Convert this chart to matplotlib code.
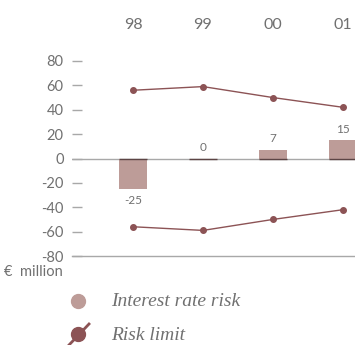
import matplotlib
matplotlib.use("Agg")
import matplotlib.pyplot as plt
from matplotlib.lines import Line2D

categories = ["98", "99", "00", "01"]
interest_rate_risk = [-25, 0, 7, 15]
risk_limit_upper = [56, 59, 50, 42]
risk_limit_lower = [-56, -59, -50, -42]
yticks = [-80, -60, -40, -20, 0, 20, 40, 60, 80]

bar_color = "#bd9c98"
line_color = "#8c5355"
text_color = "#707070"
grid_color = "#a8a8a8"

plt.rcParams['font.family'] = ['Lato', 'DejaVu Sans']

fig = plt.figure(figsize=(3.55, 3.45), dpi=100)
W, H = 355, 345
ax = fig.add_axes([72 / W, (H - 256) / H, (355 - 72) / W, (256 - 61) / H])
x = list(range(len(categories)))
bw = 0.4
ax.bar(x, interest_rate_risk, width=bw, color=bar_color, zorder=2)
for xi in x:
    ax.plot([xi - bw / 2, xi + bw / 2], [0, 0], color="#5c4444", lw=1.0, zorder=3, solid_capstyle='butt')
ax.axhline(0, color=grid_color, lw=1.0, zorder=1)
ax.axhline(-80, color=grid_color, lw=1.0, zorder=1, clip_on=False)
ax.plot(x, risk_limit_upper, color=line_color, lw=1.0, marker='o', ms=4, zorder=4)
ax.plot(x, risk_limit_lower, color=line_color, lw=1.0, marker='o', ms=4, zorder=4)

for xi, v in zip(x, interest_rate_risk):
    if v < 0:
        ax.annotate(str(v), (xi, v), xytext=(0, -4), textcoords='offset points',
                    ha='center', va='top', fontsize=8.5, color=text_color)
    else:
        ax.annotate(str(v), (xi, v), xytext=(0, 4), textcoords='offset points',
                    ha='center', va='bottom', fontsize=8.5, color=text_color)

for xi, c in zip(x, categories):
    ax.text(xi, 1.0 + 36 / 195, c, transform=ax.get_xaxis_transform(), ha='center', va='center',
            fontsize=11.5, color=text_color)

ax.set_xlim(-61 / 70, 3 + 12 / 70)
ax.set_ylim(-80, 80)
ax.set_yticks(yticks)
ax.set_yticklabels([str(t) for t in yticks])
ax.tick_params(axis='y', direction='in', length=7, width=1, color=grid_color,
               labelcolor=text_color, labelsize=10.5, pad=6)
ax.set_xticks([])
for s in ax.spines.values():
    s.set_visible(False)

fig.text(4 / W, 1 - 272 / H, "€  million", fontsize=10.5, color=text_color, va='center', ha='left')

# legend
lx = 78 / W
y1 = 1 - 301 / H
y2 = 1 - 334 / H
fig.add_artist(Line2D([lx], [y1], marker='o', ms=10, color=bar_color, transform=fig.transFigure, lw=0))
fig.add_artist(Line2D([69 / W, 89 / W], [1 - 345 / H, 1 - 324 / H], color=line_color, lw=2.0,
                      transform=fig.transFigure))
fig.add_artist(Line2D([lx], [y2], marker='o', ms=10, color=line_color, transform=fig.transFigure, lw=0))
fig.text(111 / W, y1, "Interest rate risk", fontsize=14, color=text_color, style='italic',
         family=['Liberation Serif'], va='center', ha='left')
fig.text(111 / W, y2 - 2 / H, "Risk limit", fontsize=14, color=text_color, style='italic',
         family=['Liberation Serif'], va='center', ha='left')

fig.savefig("out.png", dpi=100)
